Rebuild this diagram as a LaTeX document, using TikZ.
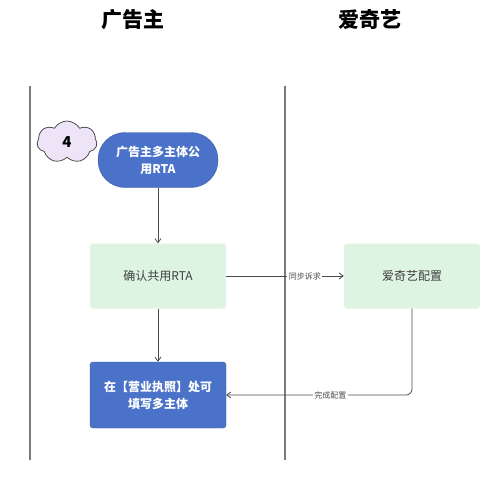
\documentclass[tikz,border=0pt]{standalone}
\usepackage{fontspec}
\setmainfont{Noto Sans CJK SC}
\usepackage{tikz}
\usetikzlibrary{arrows.meta,shapes.symbols}

\definecolor{roleblue}{HTML}{4A72C8}
\definecolor{stepgreen}{HTML}{DEF4E2}
\definecolor{tagpurple}{HTML}{EEE4F8}
\definecolor{lanegray}{HTML}{7A7A7A}

\tikzset{
  lane/.style={draw=lanegray, line width=1.1pt},
  bluebox/.style={draw=roleblue!80!black, fill=roleblue, text=white, rounded corners=3pt, minimum width=136pt, minimum height=66pt, align=center, font=\bfseries\fontsize{12}{17}\selectfont},
  greenbox/.style={fill=stepgreen, rounded corners=3pt, minimum width=136pt, minimum height=65pt, text=black!75, font=\fontsize{12}{15}\selectfont},
  flow/.style={draw=black!70, line width=0.8pt, -{Straight Barb[length=4pt,width=6pt]}},
  tag/.style={fill=white, inner sep=1.5pt, text=black!70, font=\fontsize{8}{10}\selectfont}
}

\begin{document}
\begin{tikzpicture}[x=1pt,y=-1pt]
 \useasboundingbox (0,0) rectangle (500,491);

 \node (adv) at (133,20) [font=\bfseries\fontsize{21}{24}\selectfont] {广告主};
 \node (iqy) at (370,20) [font=\bfseries\fontsize{21}{24}\selectfont] {爱奇艺};

 \draw [lane] (30,86) -- (30,460);
 \draw [lane] (285,86) -- (285,460);

 \node (four) at (67,142) [cloud, cloud puffs=7, cloud puff arc=120, aspect=1.5, draw=black!70, line width=0.8pt, fill=tagpurple, minimum width=60pt, minimum height=42pt, inner sep=0pt, font=\bfseries\fontsize{15}{16}\selectfont] {4};
 \node (multi) at (158,160) [bluebox, rounded corners=27pt, minimum width=120pt, minimum height=55pt] {广告主多主体公\\用RTA};
 \node (confirm) at (158,276) [greenbox] {确认共用RTA};
 \node (config) at (412,276) [greenbox] {爱奇艺配置};
 \node (fill) at (158,395) [bluebox] {在【营业执照】处可\\填写多主体};

 \draw [flow] (multi) -- (confirm);
 \draw [flow] (confirm) -- (fill);
 \draw [flow] (confirm) -- (config) node [tag, pos=0.67] {同步诉求};
 \draw [flow, rounded corners=6pt] (config.south) |- (fill.east) node [tag, pos=0.72] {完成配置};
\end{tikzpicture}
\end{document}
